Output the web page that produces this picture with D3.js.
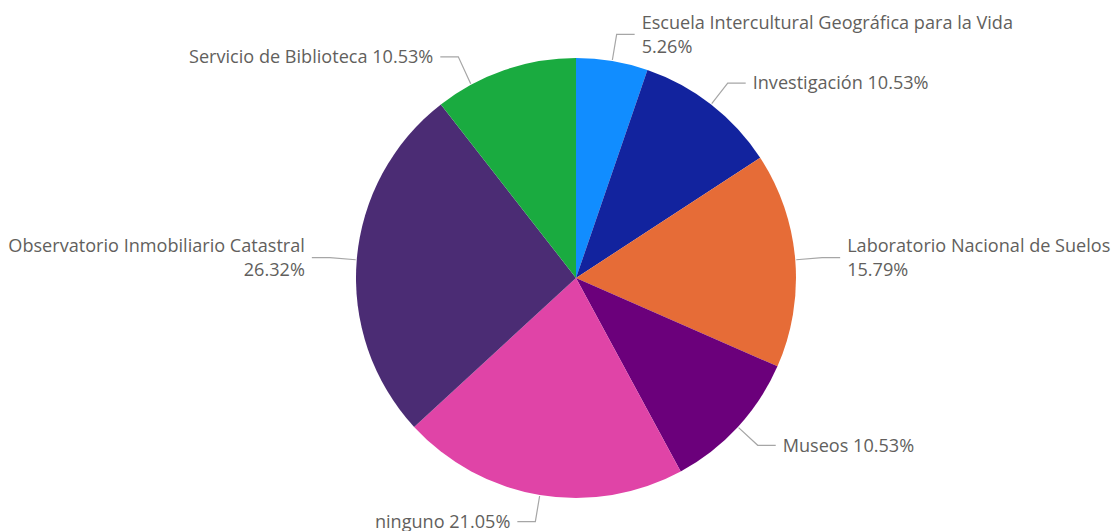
<!DOCTYPE html>
<html>
<head>
<meta charset="utf-8">
<script src="https://cdn.jsdelivr.net/npm/d3@7"></script>
<style>
  html, body { margin: 0; padding: 0; background: #fff; }
  svg { display: block; }
  .lbl { font-family: "Open Sans", "Noto Sans", sans-serif; font-size: 18.1px; fill: #625F5D; }
</style>
</head>
<body>
<svg id="chart" width="1116" height="531"></svg>
<script>
// Distribution of areas (share of responses)
const categories = [
  "Escuela Intercultural Geográfica para la Vida",
  "Investigación",
  "Laboratorio Nacional de Suelos",
  "Museos",
  "ninguno",
  "Observatorio Inmobiliario Catastral",
  "Servicio de Biblioteca"
];
const counts = [1, 2, 3, 2, 4, 5, 2];
const percentLabels = ["5.26%", "10.53%", "15.79%", "10.53%", "21.05%", "26.32%", "10.53%"];
const colors = ["#118DFF", "#12239E", "#E66C37", "#6B007B", "#E044A7", "#4B2C74", "#1AAB40"];

const W = 1116, H = 531;
const cx = 576, cy = 278, R = 220;

const svg = d3.select("#chart");
const g = svg.append("g").attr("transform", `translate(${cx},${cy})`);

const pie = d3.pie().sort(null).value(d => d.v);
const arc = d3.arc().innerRadius(0).outerRadius(R);
const data = categories.map((c, i) => ({ name: c, v: counts[i], pct: percentLabels[i], color: colors[i] }));
const arcs = pie(data);

g.selectAll("path.slice").data(arcs).enter().append("path")
  .attr("class", "slice")
  .attr("d", arc)
  .attr("fill", d => d.data.color);

// label layout: name + value either on one line or wrapped onto two
const twoLine = new Set([0, 2, 5]);
// the last slice's leader is pulled away from the first label to avoid a collision
const angleShift = { 6: -0.166 };
const yShift = { 6: -4 };

const polar = (a, r) => [Math.sin(a) * r, -Math.cos(a) * r];

arcs.forEach((d, i) => {
  const mid = (d.startAngle + d.endAngle) / 2 + (angleShift[i] || 0);
  const right = Math.sin((d.startAngle + d.endAngle) / 2) >= 0;
  const p0 = polar(mid, R + 1);
  const p1 = polar(mid, R + 27);
  p1[1] += (yShift[i] || 0);
  const p2 = [p1[0] + (right ? 18 : -18), p1[1]];
  g.append("polyline")
    .attr("points", [p0, p1, p2].map(p => p.join(",")).join(" "))
    .attr("fill", "none")
    .attr("stroke", "#A6A6A6")
    .attr("stroke-width", 1.2);

  const tx = p2[0] + (right ? 7 : -7);
  const t = g.append("text")
    .attr("class", "lbl")
    .attr("text-anchor", right ? "start" : "end");
  if (twoLine.has(i)) {
    t.append("tspan").attr("x", tx).attr("y", p2[1] - 12).attr("dy", "0.35em").text(d.data.name);
    t.append("tspan").attr("x", tx).attr("y", p2[1] + 12).attr("dy", "0.35em").text(d.data.pct);
  } else {
    t.append("tspan").attr("x", tx).attr("y", p2[1]).attr("dy", "0.35em").text(d.data.name + " " + d.data.pct);
  }
});
</script>
</body>
</html>
